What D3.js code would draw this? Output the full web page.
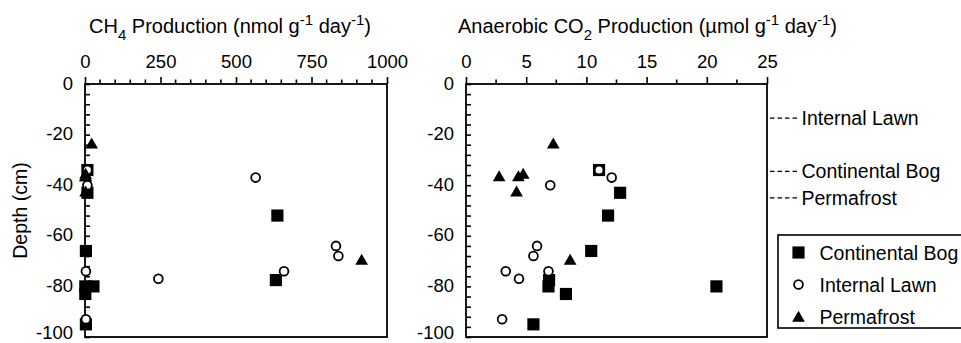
<!DOCTYPE html>
<html>
<head>
<meta charset="utf-8">
<script src="https://cdn.jsdelivr.net/npm/d3@7"></script>
<style>
  body { margin: 0; background: #fff; }
  text { font-family: "Liberation Sans", Arial, Helvetica, sans-serif; fill: #000; }
</style>
</head>
<body>
<div id="chart"></div>
<script>
// data
const seriesNames = ["Continental Bog", "Internal Lawn", "Permafrost"];

const bogDepth = [-34, -43, -52, -66, -77.5, -80, -80, -83, -95];
const bogCH4 = [8, 8, 637, 3, 632, 28, 1, 1, 3];
const bogCO2 = [11.05, 12.8, 11.8, 10.4, 6.9, 6.85, 20.8, 8.3, 5.6];

const lawnDepth = [-34, -37, -40, -64, -68, -74, -74, -77, -93];
const lawnCH4 = [8, 565, 8, 831, 839, 3, 659, 243, 3];
const lawnCO2 = [11.05, 12.1, 7.0, 5.9, 5.6, 3.3, 6.85, 4.4, 3.0];

const permDepth = [-24, -36, -37, -37, -43, -70];
const permCH4 = [22, 2, 3, 1, 2, 916];
const permCO2 = [7.25, 4.75, 2.75, 4.35, 4.2, 8.65];

const annotLabels = ["Internal Lawn", "Continental Bog", "Permafrost"];
const annotDepths = [-13.5, -34.5, -45];

const ch4Ticks = [0, 250, 500, 750, 1000];
const co2Ticks = [0, 5, 10, 15, 20, 25];
const depthTicks = [0, -20, -40, -60, -80, -100];

const W = 961, H = 343;
const plotTop = 84, plotBottom = 337;

const svg = d3.select("#chart").append("svg")
    .attr("width", W)
    .attr("height", H);

const y = d3.scaleLinear().domain([0, -100]).range([plotTop, plotBottom]);

// marker drawing, squares then circles then triangles
function drawMarker(g, kind, cx, cy) {
    if (kind === 0) {
        g.append("path")
            .attr("d", d3.symbol(d3.symbolSquare, 148)())
            .attr("transform", "translate(" + cx + "," + cy + ")")
            .attr("fill", "#000");
    } else if (kind === 1) {
        g.append("circle")
            .attr("cx", cx).attr("cy", cy).attr("r", 4.4)
            .attr("fill", "#fff").attr("stroke", "#000").attr("stroke-width", 1.8);
    } else {
        g.append("path")
            .attr("d", d3.symbol(d3.symbolTriangle, 70)())
            .attr("transform", "translate(" + cx + "," + cy + ")")
            .attr("fill", "#000");
    }
}

function panel(left, right, domainMax, majors, minorStep, values, title) {
    const x = d3.scaleLinear().domain([0, domainMax]).range([left, right]);
    const g = svg.append("g");

    // frame
    g.append("rect")
        .attr("x", left).attr("y", plotTop)
        .attr("width", right - left).attr("height", plotBottom - plotTop)
        .attr("fill", "none").attr("stroke", "#000").attr("stroke-width", 1.8);

    // top axis
    const xAxis = d3.axisTop(x)
        .tickValues(majors)
        .tickSize(7)
        .tickPadding(9)
        .tickFormat(d3.format("d"));
    const xa = g.append("g").attr("transform", "translate(0," + plotTop + ")").call(xAxis);
    xa.select(".domain").remove();
    xa.selectAll("line").attr("stroke-width", 1.6);
    xa.selectAll("text").style("font-size", "18.5px").attr("fill", "#000");

    const minors = d3.range(0, domainMax + 0.001, minorStep).filter(v => !majors.includes(v));
    g.append("g").selectAll("line").data(minors).enter().append("line")
        .attr("x1", d => x(d)).attr("x2", d => x(d))
        .attr("y1", plotTop).attr("y2", plotTop - 4.5)
        .attr("stroke", "#000").attr("stroke-width", 1.6);

    // left axis, ticks point inward
    const yAxis = d3.axisLeft(y)
        .tickValues(d3.range(0, -100.001, -4))
        .tickSize(-5)
        .tickFormat("");
    const ya = g.append("g").attr("transform", "translate(" + left + ",0)").call(yAxis);
    ya.select(".domain").remove();
    ya.selectAll("line").attr("stroke-width", 1.6);

    // depth labels, the bottom one nudged so it stays inside the page
    g.append("g").selectAll("text").data(depthTicks).enter().append("text")
        .attr("x", left - 12)
        .attr("y", d => Math.min(y(d) + 5.5, 338.5))
        .attr("text-anchor", "end")
        .style("font-size", "18.5px")
        .text(d => d);

    // title with sub/superscripts
    const t = g.append("text")
        .attr("x", (left + right) / 2 + title.dx)
        .attr("y", 33)
        .attr("text-anchor", "middle")
        .style("font-size", "20px");
    title.parts.forEach(p => {
        const s = t.append("tspan").text(p[0]);
        if (p[1] === "sub") s.attr("dy", 7).style("font-size", "15px");
        else if (p[1] === "sup") s.attr("dy", -8).style("font-size", "15px");
        else if (p[1] === "back") s.attr("dy", p[2]);
    });

    const pts = g.append("g");
    values.forEach((ser, k) => {
        ser.depth.forEach((d, i) => drawMarker(pts, k, x(ser.val[i]), y(d)));
    });
}

panel(85, 387, 1000, ch4Ticks, 50, [
    { depth: bogDepth, val: bogCH4 },
    { depth: lawnDepth, val: lawnCH4 },
    { depth: permDepth, val: permCH4 }
], { dx: -6, parts: [["CH"], ["4", "sub"], [" Production (nmol g", "back", -7], ["-1", "sup"], [" day", "back", 8], ["-1", "sup"], [")", "back", 8]] });

panel(466, 767, 25, co2Ticks, 2.5, [
    { depth: bogDepth, val: bogCO2 },
    { depth: lawnDepth, val: lawnCO2 },
    { depth: permDepth, val: permCO2 }
], { dx: 31, parts: [["Anaerobic CO"], ["2", "sub"], [" Production (\u00b5mol g", "back", -7], ["-1", "sup"], [" day", "back", 8], ["-1", "sup"], [")", "back", 8]] });

// y label
svg.append("text")
    .attr("transform", "translate(27," + y(-50) + ") rotate(-90)")
    .attr("text-anchor", "middle")
    .style("font-size", "19.5px")
    .text("Depth (cm)");

// horizon annotations to the right of the CO2 panel
const ann = svg.append("g");
annotDepths.forEach((d, i) => {
    ann.append("line")
        .attr("x1", 770).attr("x2", 797)
        .attr("y1", y(d)).attr("y2", y(d))
        .attr("stroke", "#000").attr("stroke-width", 1.3)
        .attr("stroke-dasharray", "4.5,3");
    ann.append("text")
        .attr("x", 801.5).attr("y", y(d) + 7)
        .style("font-size", "19.5px")
        .text(annotLabels[i]);
});

// legend
const leg = svg.append("g");
leg.append("rect")
    .attr("x", 778).attr("y", 235)
    .attr("width", 200).attr("height", 93)
    .attr("fill", "none").attr("stroke", "#000").attr("stroke-width", 1.6);
const legY = [252.5, 284.5, 317];
seriesNames.forEach((name, i) => {
    drawMarker(leg, i, 798.5, legY[i] + (i === 2 ? 1 : 0));
    leg.append("text")
        .attr("x", 819.5).attr("y", legY[i] + 7)
        .style("font-size", "19.5px")
        .text(name);
});
</script>
</body>
</html>
